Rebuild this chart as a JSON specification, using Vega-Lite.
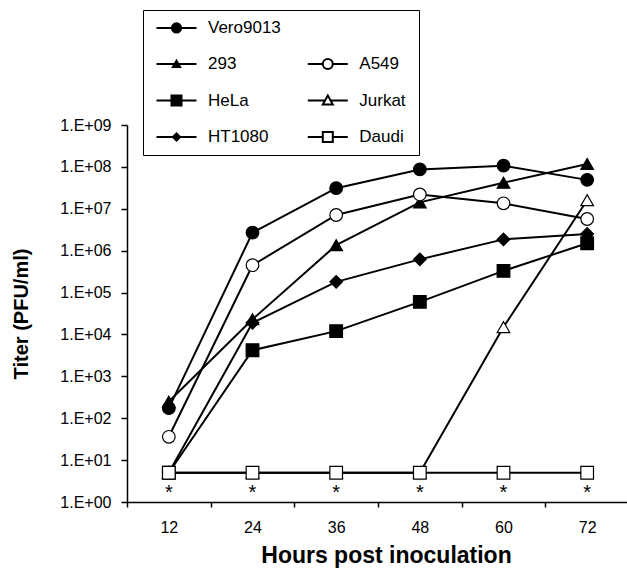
{
  "$schema": "https://vega.github.io/schema/vega-lite/v6.json",
  "width": 502,
  "height": 377,
  "autosize": {"type": "none"},
  "padding": {"left": 127, "top": 125, "right": 0, "bottom": 68},
  "background": "white",
  "config": {
    "font": "Liberation Sans",
    "view": {"stroke": null},
    "axis": {"grid": false, "domainColor": "black", "tickColor": "black", "labelColor": "black", "titleColor": "black", "labelFont": "Liberation Sans", "titleFont": "Liberation Sans"}
  },
  "data": {
    "values": [
      {"series": "Vero9013", "hour": 12, "titer": 174},
      {"series": "Vero9013", "hour": 24, "titer": 2700000},
      {"series": "Vero9013", "hour": 36, "titer": 31000000},
      {"series": "Vero9013", "hour": 48, "titer": 87000000},
      {"series": "Vero9013", "hour": 60, "titer": 107000000},
      {"series": "Vero9013", "hour": 72, "titer": 49000000},
      {"series": "293", "hour": 12, "titer": 250},
      {"series": "293", "hour": 24, "titer": 23000},
      {"series": "293", "hour": 36, "titer": 1350000},
      {"series": "293", "hour": 48, "titer": 14200000},
      {"series": "293", "hour": 60, "titer": 42000000},
      {"series": "293", "hour": 72, "titer": 117000000},
      {"series": "HeLa", "hour": 12, "titer": 5},
      {"series": "HeLa", "hour": 24, "titer": 4200},
      {"series": "HeLa", "hour": 36, "titer": 12000},
      {"series": "HeLa", "hour": 48, "titer": 60000},
      {"series": "HeLa", "hour": 60, "titer": 330000},
      {"series": "HeLa", "hour": 72, "titer": 1500000},
      {"series": "HT1080", "hour": 12, "titer": 5},
      {"series": "HT1080", "hour": 24, "titer": 19000},
      {"series": "HT1080", "hour": 36, "titer": 180000},
      {"series": "HT1080", "hour": 48, "titer": 620000},
      {"series": "HT1080", "hour": 60, "titer": 1860000},
      {"series": "HT1080", "hour": 72, "titer": 2500000},
      {"series": "A549", "hour": 12, "titer": 36},
      {"series": "A549", "hour": 24, "titer": 450000},
      {"series": "A549", "hour": 36, "titer": 7100000},
      {"series": "A549", "hour": 48, "titer": 22000000},
      {"series": "A549", "hour": 60, "titer": 13500000},
      {"series": "A549", "hour": 72, "titer": 5700000},
      {"series": "Jurkat", "hour": 12, "titer": 5},
      {"series": "Jurkat", "hour": 24, "titer": 5},
      {"series": "Jurkat", "hour": 36, "titer": 5},
      {"series": "Jurkat", "hour": 48, "titer": 5},
      {"series": "Jurkat", "hour": 60, "titer": 15000},
      {"series": "Jurkat", "hour": 72, "titer": 16000000},
      {"series": "Daudi", "hour": 12, "titer": 5},
      {"series": "Daudi", "hour": 24, "titer": 5},
      {"series": "Daudi", "hour": 36, "titer": 5},
      {"series": "Daudi", "hour": 48, "titer": 5},
      {"series": "Daudi", "hour": 60, "titer": 5},
      {"series": "Daudi", "hour": 72, "titer": 5}
    ]
  },
  "encoding": {
    "x": {
      "field": "hour", "type": "quantitative",
      "scale": {"domain": [6, 78], "nice": false, "zero": false},
      "axis": {
        "values": [6, 18, 30, 42, 54, 66, 78],
        "labelExpr": "datum.value < 70 ? '' + (datum.value + 6) : ''",
        "labelOffset": 41.83, "labelFontSize": 16, "labelPadding": 12,
        "tickSize": 5, "tickWidth": 1.5, "domainWidth": 1.5,
        "labelOverlap": false, "labelBound": false, "labelFlush": false,
        "title": "Hours post inoculation", "titleFontSize": 23, "titleFontWeight": "bold", "titlePadding": 9, "titleX": 259
      }
    },
    "y": {
      "field": "titer", "type": "quantitative",
      "scale": {"type": "log", "domain": [1, 1000000000], "nice": false},
      "axis": {
        "values": [1, 10, 100, 1000, 10000, 100000, 1000000, 10000000, 100000000, 1000000000],
        "labelExpr": "'1.E+0' + round(log(datum.value) / LN10)",
        "labelFontSize": 16, "labelPadding": 10, "labelOverlap": false,
        "tickSize": 6, "tickWidth": 1.5, "domainWidth": 1.5,
        "title": "Titer (PFU/ml)", "titleFontSize": 20, "titleFontWeight": "bold", "titlePadding": 28
      }
    }
  },
  "layer": [
    {
      "mark": {"type": "line", "color": "black", "strokeWidth": 2},
      "encoding": {"detail": {"field": "series"}}
    },
    {
      "mark": {"type": "point", "filled": true, "size": 160, "stroke": "black", "strokeWidth": 1.2, "opacity": 1},
      "encoding": {
        "shape": {"field": "series", "legend": null, "scale": {"domain": ["Vero9013", "293", "HeLa", "HT1080", "A549", "Jurkat", "Daudi"], "range": ["circle", "triangle-up", "square", "diamond", "circle", "triangle-up", "square"]}},
        "fill": {"field": "series", "legend": null, "scale": {"domain": ["Vero9013", "293", "HeLa", "HT1080", "A549", "Jurkat", "Daudi"], "range": ["black", "black", "black", "black", "white", "white", "white"]}}
      }
    },
    {
      "transform": [{"filter": "datum.series === 'Daudi'"}],
      "mark": {"type": "text", "text": "*", "fontSize": 20, "baseline": "alphabetic", "dy": 26, "color": "black"}
    },
    {
      "transform": [{"filter": "false"}],
      "mark": {"type": "point", "filled": false, "color": "black", "strokeWidth": 2, "opacity": 1},
      "encoding": {
        "shape": {
          "field": "series",
          "scale": {
            "domain": ["Vero9013", "293", "HeLa", "HT1080", " ", "A549", "Jurkat", "Daudi"],
            "range": [
              "M-20,0H20M4.6,0A4.6,4.6,0,1,1,-4.6,0A4.6,4.6,0,1,1,4.6,0ZM2.8,0A2.8,2.8,0,1,1,-2.8,0A2.8,2.8,0,1,1,2.8,0ZM1,0A1,1,0,1,1,-1,0A1,1,0,1,1,1,0Z",
              "M-20,0H20M0,-3.2L3.6,3L-3.6,3ZM0,-1L1.6,2L-1.6,2Z",
              "M-20,0H20M-5,-5H5V5H-5ZM-3,-3H3V3H-3ZM-1,-1H1V1H-1Z",
              "M-20,0H20M0,-3.6L3.6,0L0,3.6L-3.6,0ZM0,-1.6L1.6,0L0,1.6L-1.6,0Z",
              "M0,0",
              "M-20,0H-5M5,0H20M5,0A5,5,0,1,1,-5,0A5,5,0,1,1,5,0Z",
              "M-20,0H-3M3,0H20M0,-5L5,4L-5,4Z",
              "M-20,0H-5M5,0H20M-5,-5H5V5H-5Z"
            ]
          },
          "legend": {
            "title": null, "orient": "none", "legendX": 16, "legendY": -115,
            "direction": "vertical", "columns": 2,
            "symbolSize": 4, "symbolOffset": 16, "symbolStrokeColor": "black", "symbolStrokeWidth": 2, "symbolFillColor": "transparent", "symbolOpacity": 1,
            "labelFontSize": 17, "labelFont": "Liberation Sans", "labelColor": "black", "labelOffset": 23, "labelLimit": 300,
            "labelExpr": "datum.label === ' ' ? 'MMMii' : datum.label",
            "labelOpacity": {"expr": "datum.value === ' ' ? 0 : 1"},
            "columnPadding": 22.3, "rowPadding": 17.5, "padding": 9,
            "strokeColor": "black", "fillColor": "white"
          }
        }
      }
    }
  ],
  "resolve": {"scale": {"shape": "independent", "fill": "independent"}}
}
